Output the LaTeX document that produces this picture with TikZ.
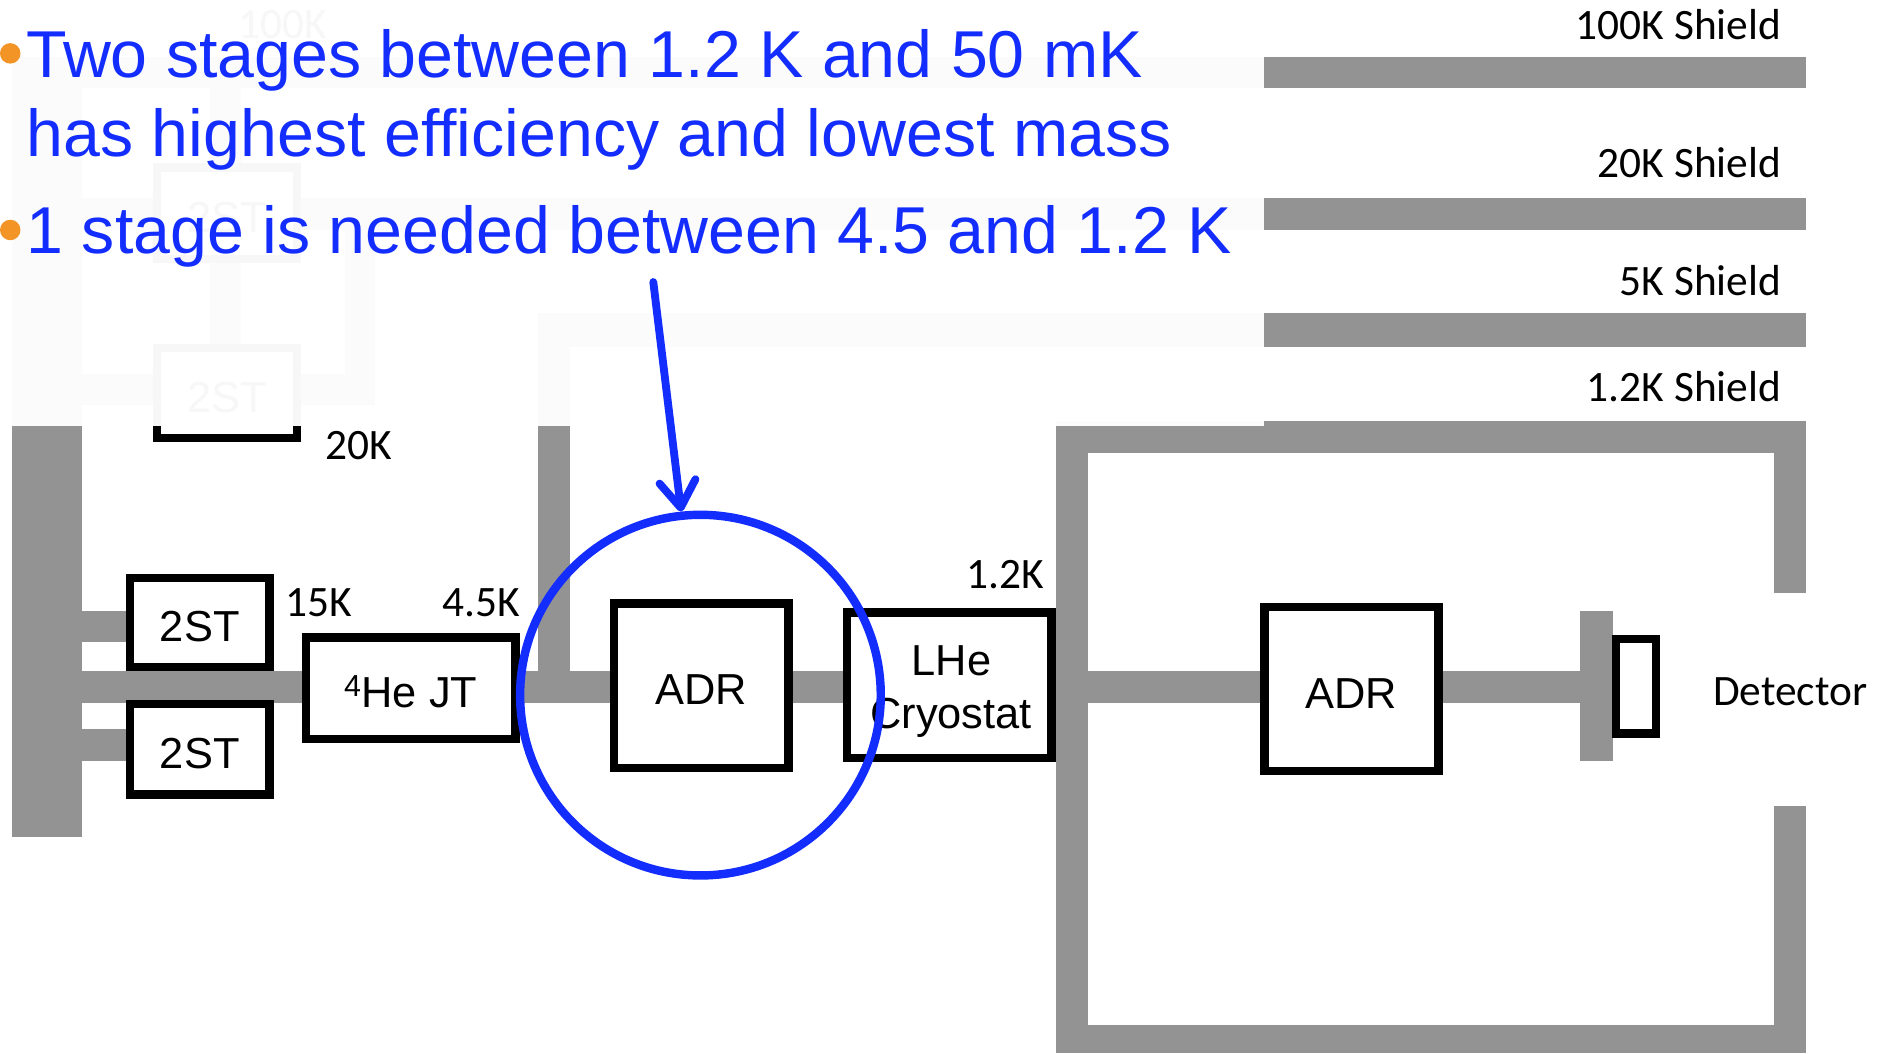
\documentclass[tikz,border=0pt]{standalone}
\usepackage{fontspec}
\setmainfont{Liberation Sans}
\newfontfamily\calib{Carlito}
\usetikzlibrary{arrows.meta}
\definecolor{shieldgray}{RGB}{147,147,147}
\definecolor{txtblue}{RGB}{20,45,255}
\definecolor{bulorange}{RGB}{243,148,38}
\begin{document}
\begin{tikzpicture}[x=1pt,y=-1pt,
  bar/.style={fill=shieldgray},
  blk/.style={draw=black, line width=7pt, fill=white, inner sep=0pt, text height=32pt, text depth=0pt, font=\fontsize{36}{43}\selectfont},
  boxtxt/.style={inner sep=0pt, font=\fontsize{36}{43}\selectfont},
  lbl/.style={inner sep=0pt, font=\calib\fontsize{36}{43}\selectfont},
  bt/.style={inner sep=0pt, text=txtblue, font=\fontsize{55}{66}\selectfont},
  bul/.style={fill=bulorange},
]
\useasboundingbox (0,0) rectangle (1568,874);
% shield and thermal link bars
\fill[bar] (10,47) rectangle (1498.5,73);
\fill[bar] (10,47) rectangle (68,694);
\fill[bar] (68,164.5) rectangle (1498.5,191);
\fill[bar] (286,191) rectangle (311,336);
\fill[bar] (68,310) rectangle (311,336);
\fill[bar] (174,73) rectangle (200,285);
\fill[bar] (446.5,260) rectangle (1498.5,288);
\fill[bar] (446.5,260) rectangle (473,583);
\fill[bar] (68,507) rectangle (104.5,533);
\fill[bar] (68,605) rectangle (104.5,631);
\fill[bar] (68,556.5) rectangle (1311,583);
\fill[bar] (876,349) rectangle (1498.5,376);
\fill[bar] (876,349) rectangle (903,874);
\fill[bar] (876,850) rectangle (1498.5,874);
\fill[bar] (1472,349) rectangle (1498.5,492);
\fill[bar] (1472,668.5) rectangle (1498.5,874);
\fill[bar] (1311,507) rectangle (1338,631.5);
% boxes
\node[blk, minimum width=116.3pt, minimum height=76pt] (g1) at (188.35,177) {2ST};
\node[blk, minimum width=116.3pt, minimum height=75pt] (g2) at (188.35,326) {2ST};
\node[blk, minimum width=115.5pt, minimum height=74pt] (st1) at (165.75,516.5) {2ST};
\node[blk, minimum width=115.5pt, minimum height=75pt] (st2) at (165.75,621.5) {2ST};
\node[blk, minimum width=173.5pt, minimum height=84pt] (jt) at (340.75,571) {\textsuperscript{4}He JT};
\node[blk, minimum width=144.5pt, minimum height=136.5pt] (adr1) at (581.75,568.75) {ADR};
\node[blk, minimum width=170pt, minimum height=121pt] (lhe) at (787.5,568.5) {};
\node[boxtxt, anchor=base] (lhe1) at (789.5,560.7) {LHe};
\node[boxtxt, anchor=base] (lhe2) at (789,604) {Cryostat};
\node[blk, minimum width=144.5pt, minimum height=136pt] (adr2) at (1121.25,571.5) {ADR};
\node[blk, minimum width=33.5pt, minimum height=78.5pt] (det) at (1357.25,569.25) {};
% labels
\node[lbl, anchor=base west] (g100) at (198,31.8) {100K};
\node[lbl, anchor=base west] (k15) at (237,511.6) {15K};
\node[lbl, anchor=base east] (k45) at (431.5,511.6) {4.5K};
\node[lbl, anchor=base west] (k20) at (270,381) {20K};
\node[lbl, anchor=base east] (k12) at (866,488) {1.2K};
\node[lbl, anchor=base east] (s100) at (1478,32.7) {100K Shield};
\node[lbl, anchor=base east] (s20) at (1478,147.4) {20K Shield};
\node[lbl, anchor=base east] (s5) at (1478,245.3) {5K Shield};
\node[lbl, anchor=base east] (s12) at (1478,332.7) {1.2K Shield};
\node[lbl, anchor=base west] (dett) at (1421,585) {Detector};
% fading overlay of the text box
\fill[white, fill opacity=0.97] (0,0) rectangle (1048.5,353.5);
% blue annotation
\fill[bul] (8.5,44.3) circle (8.5pt);
\fill[bul] (8.5,190.8) circle (8.5pt);
\node[bt, anchor=base west] (t1) at (21.5,64.5) {Two stages between 1.2 K and 50 mK};
\node[bt, anchor=base west] (t2) at (22,130) {has highest efficiency and lowest mass};
\node[bt, anchor=base west] (t3) at (22,210) {1 stage is needed between 4.5 and 1.2 K};
\node[draw=txtblue, line width=7pt, circle, minimum size=299.2pt, inner sep=0pt] (ring) at (581.1,576.7) {};
\coordinate (astart) at (542,234);
\draw[txtblue, line width=6.5pt, line cap=round, -{Straight Barb[length=22pt,width=30pt,round]}] (astart) -- (ring.96);
\end{tikzpicture}
\end{document}
